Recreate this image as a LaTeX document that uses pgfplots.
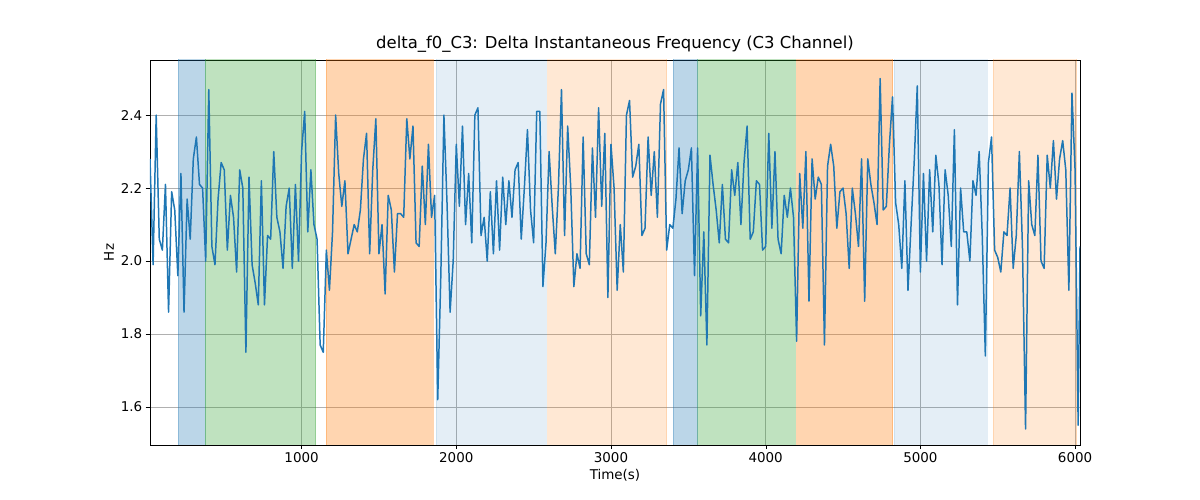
\documentclass[border=0pt]{standalone}
\usepackage{pgfplots}
\pgfplotsset{compat=1.18}
\usepackage{fontspec}
\setmainfont{DejaVu Sans}
\definecolor{tb}{RGB}{31,119,180}
\definecolor{tg}{RGB}{44,160,44}
\definecolor{to}{RGB}{255,127,14}
\definecolor{gr}{RGB}{176,176,176}
\newcommand\reg[4]{\addplot[fill=#3,fill opacity=#4,draw=#3,draw opacity=#4,line width=0.5pt] coordinates {(#1,1.3)(#2,1.3)(#2,2.7)(#1,2.7)} --cycle;}
\begin{document}
\begin{tikzpicture}[x=1bp,y=1bp]
\path[use as bounding box] (-150,-55) rectangle (1050,445);
\begin{axis}[at={(0,0)},anchor=south west,scale only axis,width=930bp,height=385bp,
xmin=20,xmax=6032,ymin=1.496,ymax=2.551,
xtick={1000,2000,3000,4000,5000,6000},ytick={1.6,1.8,2.0,2.2,2.4},
xticklabel style={/pgf/number format/1000 sep={}},
yticklabel style={/pgf/number format/fixed,/pgf/number format/fixed zerofill,/pgf/number format/precision=1},
/pgf/number format/assume math mode=true,
grid=major,grid style={gr,line width=0.8pt},
xtick pos=bottom,ytick pos=left,
tick style={black},tick align=outside,
ticklabel style={font=\fontsize{13.5}{15}\selectfont},
label style={font=\fontsize{13.5}{15}\selectfont},
xlabel={Time(s)},ylabel={Hz},
title={delta\_f0\_C3: Delta Instantaneous Frequency (C3 Channel)},
title style={font=\fontsize{16.5}{18}\selectfont,yshift=-2bp},
clip=true]
\reg{200}{375}{tb}{0.3}
\reg{375}{1090}{tg}{0.3}
\reg{1160}{1850}{to}{0.33}
\reg{1870}{2580}{tb}{0.12}
\reg{2590}{3360}{to}{0.18}
\reg{3400}{3560}{tb}{0.3}
\reg{3560}{4190}{tg}{0.3}
\reg{4200}{4820}{to}{0.33}
\reg{4830}{5430}{tb}{0.12}
\reg{5470}{6010}{to}{0.18}
\addplot[tb,line width=1.5pt,mark=none,line join=round] table {
20 2.28
40 1.99
60 2.40
80 2.06
100 2.03
120 2.21
140 1.86
160 2.19
180 2.14
200 1.96
220 2.24
240 1.86
260 2.17
280 2.06
300 2.28
320 2.34
340 2.21
360 2.20
380 2.00
400 2.47
420 2.04
440 1.99
460 2.17
480 2.27
500 2.25
520 2.03
540 2.18
560 2.12
580 1.97
600 2.25
620 2.20
640 1.75
660 2.23
680 1.99
700 1.94
720 1.88
740 2.22
760 1.88
780 2.07
800 2.06
820 2.30
840 2.12
860 2.08
880 1.98
900 2.15
920 2.20
940 1.98
960 2.21
980 2.00
1000 2.30
1020 2.41
1040 2.08
1060 2.25
1080 2.10
1100 2.06
1120 1.77
1140 1.75
1160 2.03
1180 1.92
1200 2.08
1220 2.40
1240 2.24
1260 2.15
1280 2.22
1300 2.02
1320 2.06
1340 2.10
1360 2.08
1380 2.14
1400 2.28
1420 2.35
1440 2.02
1460 2.25
1480 2.39
1500 2.02
1520 2.10
1540 1.91
1560 2.18
1580 2.14
1600 1.97
1620 2.13
1640 2.13
1660 2.12
1680 2.39
1700 2.28
1720 2.37
1740 2.05
1760 2.04
1780 2.26
1800 2.10
1820 2.32
1840 2.12
1860 2.18
1880 1.62
1900 1.96
1920 2.40
1940 2.16
1960 1.86
1980 2.00
2000 2.32
2020 2.15
2040 2.37
2060 2.10
2080 2.24
2100 2.05
2120 2.40
2140 2.42
2160 2.07
2180 2.12
2200 2.00
2220 2.19
2240 2.02
2260 2.22
2280 2.03
2300 2.23
2320 2.10
2340 2.22
2360 2.12
2380 2.25
2400 2.27
2420 2.06
2440 2.20
2460 2.36
2480 2.14
2500 2.05
2520 2.41
2540 2.41
2560 1.93
2580 2.05
2600 2.30
2620 2.15
2640 2.02
2660 2.20
2680 2.47
2700 2.07
2720 2.37
2740 2.20
2760 1.93
2780 2.02
2800 1.98
2820 2.34
2840 2.02
2860 1.99
2880 2.31
2900 2.12
2920 2.42
2940 2.15
2960 2.35
2980 1.90
3000 2.32
3020 2.20
3040 1.92
3060 2.10
3080 1.97
3100 2.40
3120 2.44
3140 2.23
3160 2.26
3180 2.32
3200 2.07
3220 2.09
3240 2.34
3260 2.18
3280 2.30
3300 2.12
3320 2.43
3340 2.47
3360 2.03
3380 2.10
3400 2.09
3420 2.17
3440 2.31
3460 2.13
3480 2.22
3500 2.25
3520 2.31
3540 1.96
3560 2.31
3580 1.85
3600 2.08
3620 1.77
3640 2.29
3660 2.21
3680 2.14
3700 2.05
3720 2.21
3740 2.06
3760 2.05
3780 2.25
3800 2.18
3820 2.27
3840 2.10
3860 2.27
3880 2.37
3900 2.06
3920 2.08
3940 2.22
3960 2.21
3980 2.03
4000 2.04
4020 2.35
4040 2.09
4060 2.30
4080 2.06
4100 2.02
4120 2.18
4140 2.12
4160 2.20
4180 2.12
4200 1.78
4220 2.24
4240 2.09
4260 2.30
4280 1.89
4300 2.28
4320 2.17
4340 2.23
4360 2.21
4380 1.77
4400 2.26
4420 2.32
4440 2.26
4460 2.09
4480 2.19
4500 2.20
4520 2.13
4540 1.98
4560 2.20
4580 2.13
4600 2.04
4620 2.28
4640 1.89
4660 2.28
4680 2.21
4700 2.16
4720 2.10
4740 2.50
4760 2.14
4780 2.15
4800 2.32
4820 2.45
4840 2.16
4860 2.10
4880 1.98
4900 2.22
4920 1.92
4940 2.10
4960 2.27
4980 2.48
5000 1.97
5020 2.24
5040 2.00
5060 2.25
5080 2.08
5100 2.29
5120 2.21
5140 1.99
5160 2.25
5180 2.18
5200 2.04
5220 2.36
5240 1.88
5260 2.20
5280 2.08
5300 2.08
5320 2.00
5340 2.22
5360 2.18
5380 2.30
5400 2.07
5420 1.74
5440 2.27
5460 2.34
5480 2.03
5500 2.01
5520 1.97
5540 2.08
5560 2.07
5580 2.20
5600 1.98
5620 2.07
5640 2.30
5660 2.04
5680 1.54
5700 2.22
5720 2.10
5740 2.07
5760 2.29
5780 2.00
5800 1.98
5820 2.29
5840 2.20
5860 2.33
5880 2.17
5900 2.28
5920 2.33
5940 2.25
5960 1.92
5980 2.46
6000 2.25
6020 1.55
6032 2.04
};
\end{axis}
\end{tikzpicture}
\end{document}
